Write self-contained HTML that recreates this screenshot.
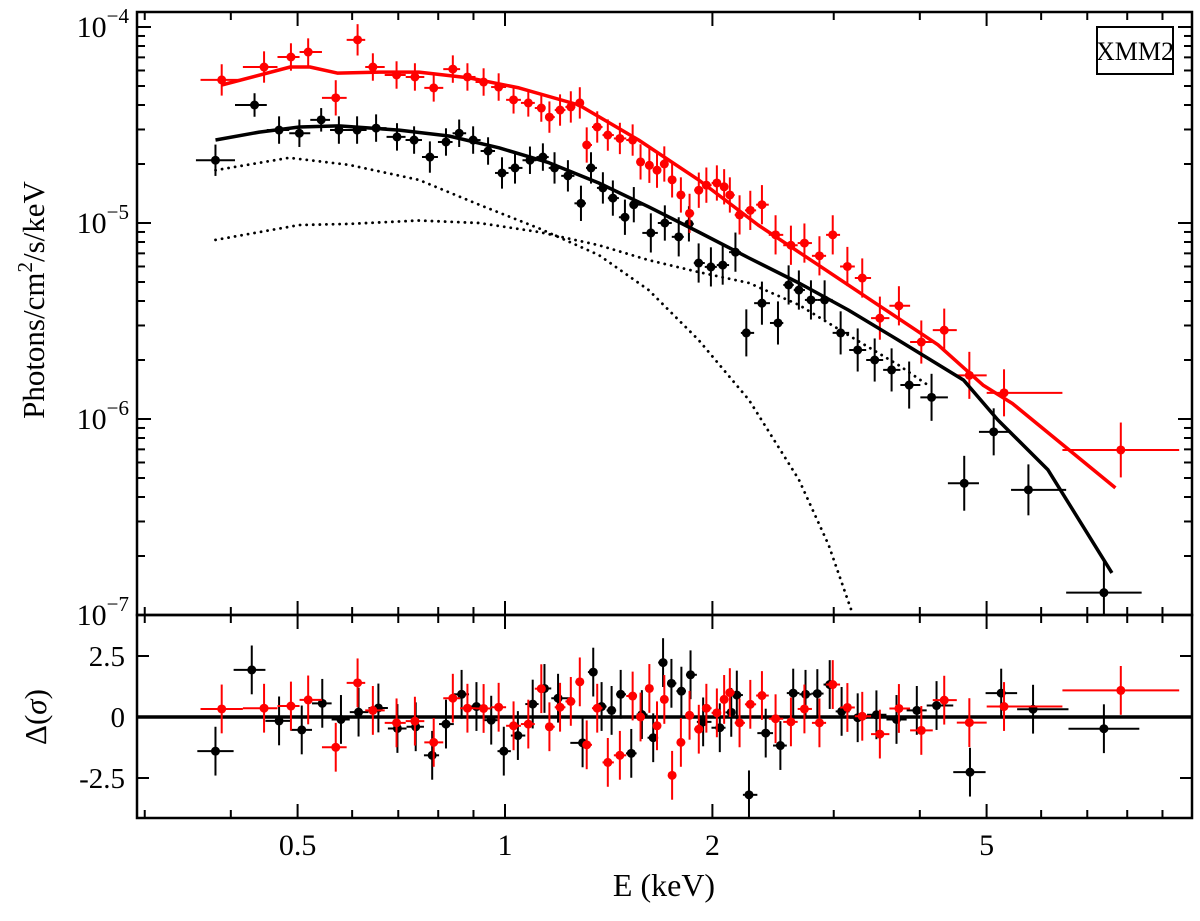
<!DOCTYPE html>
<html><head><meta charset="utf-8"><style>
body{margin:0;background:#fff;}
svg text{font-family:"Liberation Serif",serif;fill:#000;}
</style></head><body>
<svg id="chart" width="1200" height="916" xmlns="http://www.w3.org/2000/svg"></svg>
<script>
// ---- data ----
const blackE=[0.380,0.433,0.470,0.503,0.541,0.574,0.610,0.650,0.697,0.738,0.778,0.821,0.858,0.899,0.945,0.990,1.034,1.087,1.135,1.18,1.234,1.289,1.333,1.387,1.434,1.493,1.538,1.628,1.706,1.787,1.849,1.910,1.99,2.07,2.16,2.24,2.36,2.49,2.58,2.67,2.78,2.91,3.07,3.25,3.44,3.64,3.86,4.16,4.64,5.12,5.75,7.4];
const blackFlux=[2.09e-5,4.0e-5,2.98e-5,2.87e-5,3.36e-5,2.98e-5,2.98e-5,3.05e-5,2.75e-5,2.65e-5,2.17e-5,2.59e-5,2.87e-5,2.65e-5,2.33e-5,1.80e-5,1.91e-5,2.09e-5,2.17e-5,1.91e-5,1.74e-5,1.26e-5,1.91e-5,1.51e-5,1.34e-5,1.07e-5,1.24e-5,8.9e-6,1.0e-5,8.5e-6,9.9e-6,6.25e-6,5.97e-6,6.1e-6,7.1e-6,2.75e-6,3.9e-6,3.09e-6,4.83e-6,4.55e-6,4.05e-6,4.05e-6,2.75e-6,2.25e-6,2.0e-6,1.78e-6,1.49e-6,1.29e-6,4.7e-7,8.6e-7,4.35e-7,1.3e-7];
const blackErrDex=[0.08,0.06,0.07,0.07,0.06,0.07,0.07,0.07,0.07,0.07,0.08,0.07,0.07,0.07,0.07,0.08,0.08,0.07,0.07,0.08,0.08,0.09,0.08,0.08,0.09,0.09,0.09,0.10,0.09,0.10,0.09,0.10,0.10,0.10,0.10,0.12,0.11,0.11,0.10,0.10,0.10,0.10,0.11,0.11,0.11,0.11,0.12,0.12,0.14,0.12,0.13,0.16];
const redE=[0.388,0.447,0.489,0.518,0.568,0.611,0.643,0.696,0.740,0.788,0.840,0.882,0.931,0.979,1.029,1.081,1.129,1.160,1.202,1.246,1.284,1.314,1.361,1.410,1.468,1.532,1.573,1.620,1.662,1.703,1.748,1.800,1.853,1.911,1.96,2.03,2.08,2.12,2.19,2.27,2.36,2.47,2.60,2.72,2.86,2.99,3.14,3.30,3.50,3.73,4.02,4.34,4.72,5.30,7.83];
const redFlux=[5.37e-5,6.25e-5,7.03e-5,7.45e-5,4.35e-5,8.6e-5,6.25e-5,5.69e-5,5.56e-5,4.89e-5,6.1e-5,5.56e-5,5.24e-5,4.94e-5,4.25e-5,4.10e-5,3.86e-5,3.47e-5,3.77e-5,3.91e-5,4.10e-5,2.50e-5,3.09e-5,2.81e-5,2.7e-5,2.65e-5,2.05e-5,1.97e-5,1.86e-5,2.0e-5,1.66e-5,1.39e-5,1.12e-5,1.47e-5,1.56e-5,1.6e-5,1.53e-5,1.39e-5,1.10e-5,1.16e-5,1.24e-5,8.7e-6,7.7e-6,7.9e-6,6.8e-6,8.7e-6,6.0e-6,5.24e-6,3.27e-6,3.78e-6,2.47e-6,2.84e-6,1.67e-6,1.36e-6,6.95e-7];
const redErrDex=[0.08,0.08,0.07,0.07,0.09,0.08,0.07,0.07,0.07,0.07,0.07,0.07,0.07,0.07,0.07,0.07,0.07,0.08,0.08,0.08,0.08,0.09,0.08,0.08,0.08,0.08,0.09,0.09,0.09,0.09,0.09,0.09,0.10,0.09,0.09,0.09,0.09,0.09,0.10,0.10,0.10,0.10,0.10,0.10,0.10,0.10,0.10,0.10,0.11,0.10,0.11,0.11,0.12,0.12,0.14];
const blackResE=[0.380,0.429,0.470,0.507,0.543,0.578,0.613,0.655,0.698,0.742,0.784,0.821,0.865,0.909,0.955,0.996,1.044,1.097,1.141,1.194,1.296,1.343,1.381,1.428,1.472,1.525,1.580,1.641,1.696,1.744,1.803,1.859,1.939,2.05,2.13,2.17,2.26,2.39,2.51,2.62,2.73,2.84,2.96,3.08,3.25,3.46,3.70,3.96,4.23,4.73,5.25,5.84,7.4];
const blackRes=[-1.4,1.93,-0.16,-0.53,0.56,-0.1,0.2,0.37,-0.47,-0.4,-1.57,-0.29,0.93,0.43,-0.13,-1.4,-0.76,0.53,1.17,0.77,-1.06,1.84,0.43,0.27,0.93,-1.49,0.1,-0.85,2.23,1.38,1.06,1.73,-0.2,-0.44,0.19,0.9,-3.19,-0.66,-1.17,0.98,0.93,0.96,1.33,0.23,-0.03,0.09,-0.1,0.27,0.47,-2.26,0.98,0.32,-0.48];
const redRes=[0.33,0.36,0.45,0.7,-1.24,1.4,0.27,-0.24,-0.17,-1.04,0.77,0.36,0.35,0.4,-0.36,-0.29,1.16,-0.4,0.4,0.64,1.44,-1.14,0.36,-1.86,-1.57,0.86,0,1.17,-0.36,0.72,-2.39,-1.04,0.07,-0.5,0.36,0.17,0.72,1.0,-0.24,0.52,0.88,-0.07,-0.2,0.33,-0.24,1.33,0.39,0.03,-0.7,0.35,-0.55,0.69,-0.23,0.43,1.09];
const redModelE=[0.388,0.488,0.521,0.571,0.657,0.750,0.887,1.048,1.280,1.563,1.910,2.33,2.85,3.48,4.25,4.94,5.45,7.69];
const redModelF=[5.06e-5,6.25e-5,6.25e-5,5.82e-5,5.89e-5,5.89e-5,5.5e-5,4.89e-5,4.0e-5,2.65e-5,1.66e-5,9.77e-6,6.1e-6,3.82e-6,2.39e-6,1.49e-6,1.2e-6,4.45e-7];
const blackModelE=[0.380,0.440,0.503,0.574,0.702,0.829,0.980,1.158,1.368,1.616,1.910,2.26,2.67,3.15,3.72,4.63,5.19,6.14,7.6];
const blackModelF=[2.65e-5,2.91e-5,3.09e-5,3.13e-5,2.98e-5,2.78e-5,2.42e-5,2.03e-5,1.60e-5,1.21e-5,9.0e-6,6.63e-6,4.94e-6,3.6e-6,2.53e-6,1.58e-6,9.9e-7,5.5e-7,1.64e-7];
const bbE=[0.380,0.486,0.594,0.750,0.917,1.12,1.368,1.616,1.910,2.26,2.67,2.95,3.20];
const bbF=[1.86e-5,2.15e-5,1.98e-5,1.66e-5,1.24e-5,9.4e-6,6.87e-6,4.55e-6,2.53e-6,1.25e-6,4.9e-7,2.27e-7,1.0e-7];
const plE=[0.380,0.503,0.594,0.750,0.917,1.12,1.368,1.616,1.910,2.26,2.67,3.15,3.72,4.11];
const plF=[8.2e-6,9.77e-6,9.9e-6,1.03e-5,1.0e-5,9.0e-6,7.7e-6,6.47e-6,5.62e-6,4.94e-6,3.82e-6,2.68e-6,1.89e-6,1.49e-6];
const xTickMajor=[0.5,1,2,5];
const xTickMinor=[0.3,0.4,0.6,0.7,0.8,0.9,3,4,6,7,8,9];
const resTicks=[-2.5,0,2.5];
const resTickLabels=["-2.5","0","2.5"];

// ---- layout ----
const L=137,R=1192,T=12,MB=615,RB=818;
const X=e=>505+689*Math.log10(e);
const Y=f=>27+(-4-Math.log10(f))*196;
const YR=r=>717-r*24.4;
const NS="http://www.w3.org/2000/svg";
const svg=document.getElementById('chart');
function mk(tag,attrs,parent){const el=document.createElementNS(NS,tag);for(const k in attrs)el.setAttribute(k,attrs[k]);(parent||svg).appendChild(el);return el;}

const defs=mk('defs',{});
const cp=mk('clipPath',{id:'cm'},defs);mk('rect',{x:L,y:T,width:R-L,height:MB-T},cp);
const cr=mk('clipPath',{id:'cr'},defs);mk('rect',{x:L,y:MB,width:R-L,height:RB-MB},cr);

const gMain=mk('g',{'clip-path':'url(#cm)'});


const gRes=mk('g',{'clip-path':'url(#cr)'});



function line(es,fs,style,name,g,yf){
  const d=es.map((e,i)=>(i?'L':'M')+X(e).toFixed(1)+','+yf(fs[i]).toFixed(1)).join(' ');
  const p=mk('path',Object.assign({d:d,fill:'none','stroke-linejoin':'round'},style),g);
  
  
}
const dotStyle={stroke:'#000','stroke-width':2.8,'stroke-dasharray':'0.1,6.5','stroke-linecap':'round'};
line(bbE,bbF,dotStyle,'blackbody-component',gMain,Y);
line(plE,plF,dotStyle,'powerlaw-component',gMain,Y);

function halfW(es,i){
  const lg=es.map(Math.log10);
  const left=i>0?(lg[i]-lg[i-1])/2:(lg[1]-lg[0])/2;
  const right=i<es.length-1?(lg[i+1]-lg[i])/2:left;
  return [left,right];
}
function points(es,fs,errFn,color,name,g,yf){
  es.forEach((e,i)=>{
    const [hl,hr]=halfW(es,i);
    const x=X(e),y=yf(fs[i]);
    const [y1,y2]=errFn(i);
    const grp=mk('g',{},g);
    
    
    mk('line',{x1:X(e/Math.pow(10,hl)),x2:X(e*Math.pow(10,hr)),y1:y,y2:y,stroke:color,'stroke-width':2},grp);
    mk('line',{x1:x,x2:x,y1:y1,y2:y2,stroke:color,'stroke-width':2},grp);
    mk('circle',{cx:x,cy:y,r:4.5,fill:color},grp);
  });
}
points(blackE,blackFlux,i=>[Y(blackFlux[i])-blackErrDex[i]*196,Y(blackFlux[i])+blackErrDex[i]*196],'#000','black-data-point',gMain,Y);
points(redE,redFlux,i=>[Y(redFlux[i])-redErrDex[i]*196,Y(redFlux[i])+redErrDex[i]*196],'#f00','red-data-point',gMain,Y);
line(blackModelE,blackModelF,{stroke:'#000','stroke-width':3.5},'black-model-line',gMain,Y);
line(redModelE,redModelF,{stroke:'#f00','stroke-width':3.5},'red-model-line',gMain,Y);

// residuals
const z=mk('line',{x1:L,x2:R,y1:YR(0),y2:YR(0),stroke:'#000','stroke-width':3.5},gRes);


points(blackResE,blackRes,i=>[YR(blackRes[i])-24.4,YR(blackRes[i])+24.4],'#000','black-residual',gRes,v=>YR(v));
points(redE,redRes,i=>[YR(redRes[i])-24.4,YR(redRes[i])+24.4],'#f00','red-residual',gRes,v=>YR(v));

// frames
const f1=mk('rect',{x:L,y:T,width:R-L,height:MB-T,fill:'none',stroke:'#000','stroke-width':2.5});


const f2=mk('rect',{x:L,y:MB,width:R-L,height:RB-MB,fill:'none',stroke:'#000','stroke-width':2.5});



// x ticks
const tg=mk('g',{stroke:'#000','stroke-width':2});


function xt(e,len){
  [[T,1],[MB,-1],[MB,1],[RB,-1]].forEach(([y0,s])=>mk('line',{x1:X(e),x2:X(e),y1:y0,y2:y0+s*len},tg));
}
xTickMajor.forEach(e=>xt(e,14));
xTickMinor.forEach(e=>xt(e,8));
xTickMajor.forEach((e,i)=>{
  const t=mk('text',{x:X(e),y:855,'font-size':30,'text-anchor':'middle'});
  t.textContent=String(e);
  
  
});
// y ticks main
[-4,-5,-6,-7].forEach(p=>{
  const y=Y(Math.pow(10,p));
  mk('line',{x1:L,x2:L+14,y1:y,y2:y},tg);mk('line',{x1:R,x2:R-14,y1:y,y2:y},tg);
  const t=mk('text',{x:L-8,y:y+10,'font-size':30,'text-anchor':'end'});
  t.innerHTML='10<tspan dy="-14" font-size="21">−'+(-p)+'</tspan>';
  
  
});
[-5,-6,-7].forEach(p=>{for(let m=2;m<=9;m++){const y=Y(m*Math.pow(10,p));if(y<T)continue;
  mk('line',{x1:L,x2:L+8,y1:y,y2:y},tg);mk('line',{x1:R,x2:R-8,y1:y,y2:y},tg);}});
// residual y ticks
resTicks.forEach((v,i)=>{
  const y=YR(v);
  mk('line',{x1:L,x2:L+12,y1:y,y2:y},tg);mk('line',{x1:R,x2:R-12,y1:y,y2:y},tg);
  const t=mk('text',{x:L-12,y:y+10,'font-size':29,'text-anchor':'end'});
  t.textContent=resTickLabels[i];
  
  
});

// titles
let t=mk('text',{x:664,y:896,'font-size':32,'text-anchor':'middle'});
t.textContent='E (keV)';


t=mk('text',{x:0,y:0,'font-size':31,'text-anchor':'middle',transform:'translate(44,300) rotate(-90)'});
t.innerHTML='Photons/cm<tspan dy="-12" font-size="21">2</tspan><tspan dy="12">/s/keV</tspan>';


t=mk('text',{x:0,y:0,'font-size':31,'text-anchor':'middle',transform:'translate(46,717) rotate(-90)'});
t.innerHTML='Δ(<tspan font-style="italic">σ</tspan>)';



// legend box
const lb=mk('g',{});


mk('rect',{x:1097,y:27,width:76,height:47,fill:'#fff',stroke:'#000','stroke-width':2},lb);
const lt=mk('text',{x:1135,y:60,'font-size':26,'text-anchor':'middle'},lb);
lt.textContent='XMM2';


</script>
</body></html>
